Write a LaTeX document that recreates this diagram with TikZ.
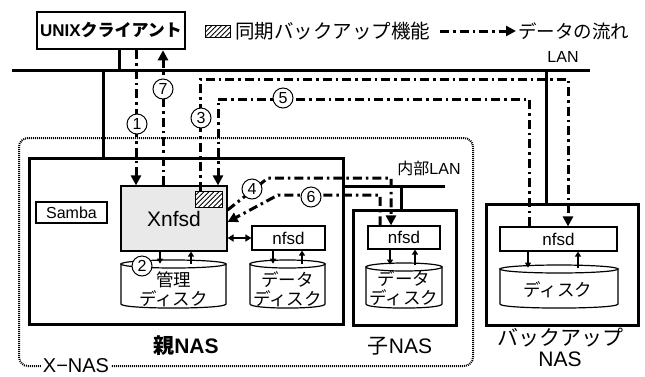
\documentclass[tikz,border=0pt]{standalone}
\usepackage{fontspec}
\setmainfont{Liberation Sans}
\newfontfamily\jp{Noto Sans CJK JP}
\usetikzlibrary{arrows.meta,patterns.meta}
\tikzset{
  box/.style={draw, line width=1.2pt, inner sep=0pt, fill=white},
  nas/.style={draw, line width=3pt, inner sep=0pt},
  net/.style={line width=3pt},
  flow/.style={line width=3pt, dash pattern=on 9pt off 4pt on 2.5pt off 4pt},
  tip/.style={-{Triangle[length=10pt,width=10pt]}},
  num/.style={circle, draw, line width=1pt, fill=white, minimum size=20pt, inner sep=0pt, font=\fontsize{16}{16}\selectfont},
  small/.style={line width=1.6pt, -{Triangle[length=5pt,width=6pt]}},
  dbl/.style={line width=2pt, {Triangle[length=6pt,width=7pt]}-{Triangle[length=6pt,width=7pt]}},
  hatch/.style={draw, line width=1pt, inner sep=0pt, preaction={fill=white}, pattern={Lines[angle=45,distance=3.5pt,line width=0.9pt]}},
  xnas/.style={draw, line width=2pt, dash pattern=on 1pt off 1pt, rounded corners=9pt, inner sep=0pt},
  cyl/.style={line width=1.2pt, fill=white},
  lbl/.style={inner sep=1pt, font=\fontsize{16}{18}\selectfont},
  jlbl/.style={inner sep=1pt, align=center, font=\fontsize{17.5}{19}\selectfont\jp},
}
\newcommand\mycyl[4]{%
  \filldraw[cyl] (#1,#3+4) -- (#1,#4-4) .. controls (#1,#4+1.4) and (#2,#4+1.4) .. (#2,#4-4) -- (#2,#3+4) -- cycle;
  \draw[cyl] ({(#1+#2)/2},#3+4) ellipse [x radius={(#2-#1)/2}, y radius=4];
}
\begin{document}
\begin{tikzpicture}[x=1pt,y=-1pt]
\useasboundingbox (0,0) rectangle (645,376);

% X-NAS group
\node[xnas, anchor=north west, minimum width=454pt, minimum height=228pt] (xnas) at (18,137) {};
\node[fill=white, inner sep=2pt, font=\fontsize{20}{20}\selectfont] (xnaslab) at (76,366) {X−NAS};

% NAS boxes
\node[nas, anchor=north west, minimum width=314pt, minimum height=166pt] (oya) at (28,157) {};
\node[nas, anchor=north west, minimum width=103pt, minimum height=115pt] (ko) at (352,209) {};
\node[nas, anchor=north west, minimum width=152pt, minimum height=121pt] (bk) at (485,203) {};

\node[font=\fontsize{21}{21}\selectfont\bfseries] (oyalab) at (186,346) {{\jp 親}NAS};
\node[font=\fontsize{21}{21}\selectfont] (kolab) at (400,346) {{\jp 子}NAS};
\node[align=center, font=\fontsize{21}{21}\selectfont] (bklab) at (560,347) {{\jp バックアップ}\\NAS};

% client
\node[box, line width=2.5pt, minimum width=148pt, minimum height=37pt, font=\fontsize{17}{17}\selectfont\bfseries] (cli) at (111,30.5) {UNIX{\jp クライアント}};

% legend
\node[hatch, minimum width=25pt, minimum height=12pt] (lgh) at (217.5,31) {};
\node[anchor=west, jlbl, font=\fontsize{19.5}{19.5}\selectfont\jp] (lgt) at (234,31) {同期バックアップ機能};
\coordinate (lga) at (440,31);
\coordinate (lgb) at (516,31);
\draw[flow, tip] (lga) -- (lgb);
\node[anchor=west, jlbl, font=\fontsize{18.5}{18.5}\selectfont\jp] (lgd) at (517,31) {データの流れ};

% LAN
\coordinate (lanL) at (12,70);
\coordinate (lanR) at (590,70);
\draw[net] (lanL) -- (lanR);
\node[lbl] (lanlab) at (563,57) {LAN};
\draw[net] (119,0 |- cli.south) -- (119,0 |- lanL);
\draw[net] (103,0 |- lanL) -- (103,0 |- oya.north);
\draw[net] (546,0 |- lanL) -- (546,0 |- bk.north);

% internal LAN
\coordinate (ilanR) at (445,186);
\draw[net] (oya.east |- ilanR) -- (ilanR);
\node[lbl] (ilanlab) at (429,168) {{\jp 内部}LAN};
\draw[net] (401,0 |- ilanR) -- (401,0 |- ko.north);

% parent NAS contents
\node[box, fill=gray!17, minimum width=106pt, minimum height=65pt, font=\fontsize{21}{21}\selectfont] (xn) at (174,218.5) {\raisebox{-5pt}{Xnfsd}};
\node[hatch, minimum width=27pt, minimum height=16pt] (hx) at (208.5,199) {};
\node[box, minimum width=71pt, minimum height=21pt, font=\fontsize{16}{16}\selectfont] (sam) at (71.5,212.5) {Samba};
\node[box, minimum width=73pt, minimum height=24pt, font=\fontsize{17}{17}\selectfont] (n1) at (288.5,238) {nfsd};
\node[box, minimum width=72pt, minimum height=23pt, font=\fontsize{17}{17}\selectfont] (n2) at (404,237.5) {nfsd};
\node[box, minimum width=117pt, minimum height=24pt, font=\fontsize{17}{17}\selectfont] (n3) at (558.5,239) {nfsd};

\mycyl{121}{226}{260}{308}
\mycyl{250}{325}{260}{308}
\mycyl{366}{442}{263}{308}
\mycyl{500}{618}{265}{308}
\node[jlbl] (d1) at (173.5,289) {管理\\ディスク};
\node[jlbl] (d2) at (287.5,289) {データ\\ディスク};
\node[jlbl] (d3) at (404,288) {データ\\ディスク};
\node[jlbl] (d4) at (558,290) {ディスク};

% small arrows
\draw[small] ([xshift=-14pt]xn.south) -- ++(0,12);
\draw[small] ([xshift=17pt]xn.south) ++(0,12) -- ([xshift=17pt]xn.south);
\draw[dbl] (xn.east |- n1) -- (n1.west);
\draw[small] ([xshift=-15.5pt]n1.south) -- ++(0,13);
\draw[small] ([xshift=13.5pt]n1.south) ++(0,13) -- ([xshift=13.5pt]n1.south);
\draw[small] ([xshift=-14pt]n2.south) -- ++(0,15);
\draw[small] ([xshift=11pt]n2.south) ++(0,15) -- ([xshift=11pt]n2.south);
\draw[small] ([xshift=-30.5pt]n3.south) -- ++(0,16);
\draw[small] ([xshift=19.5pt]n3.south) ++(0,16) -- ([xshift=19.5pt]n3.south);

% data flows
\draw[flow, tip] (136,0 |- cli.south) -- (136,0 |- xn.north);
\draw[flow, tip] (163,0 |- xn.north) -- (163,0 |- cli.south);
\draw[flow, tip] (200,0 |- hx.north) |- (568,79) -- (568,0 |- n3.north);
\draw[flow, tip] (529,0 |- n3.north) |- (218,99) -- (218,0 |- xn.north);
\draw[flow, tip] (xn.east |- 0,210) -- (268,178) -- (391,178) -- (391,0 |- n2.north);
\draw[flow, tip] (380,0 |- n2.north) -- (380,195) -- (278,195) -- (xn.east |- 0,222);

% step numbers
\node[num] (k1) at (137,124) {1};
\node[num] (k2) at (142,266) {2};
\node[num] (k3) at (201,118) {3};
\node[num] (k4) at (252,189) {4};
\node[num] (k5) at (283,98) {5};
\node[num] (k6) at (311,197) {6};
\node[num] (k7) at (163,89) {7};
\end{tikzpicture}
\end{document}
